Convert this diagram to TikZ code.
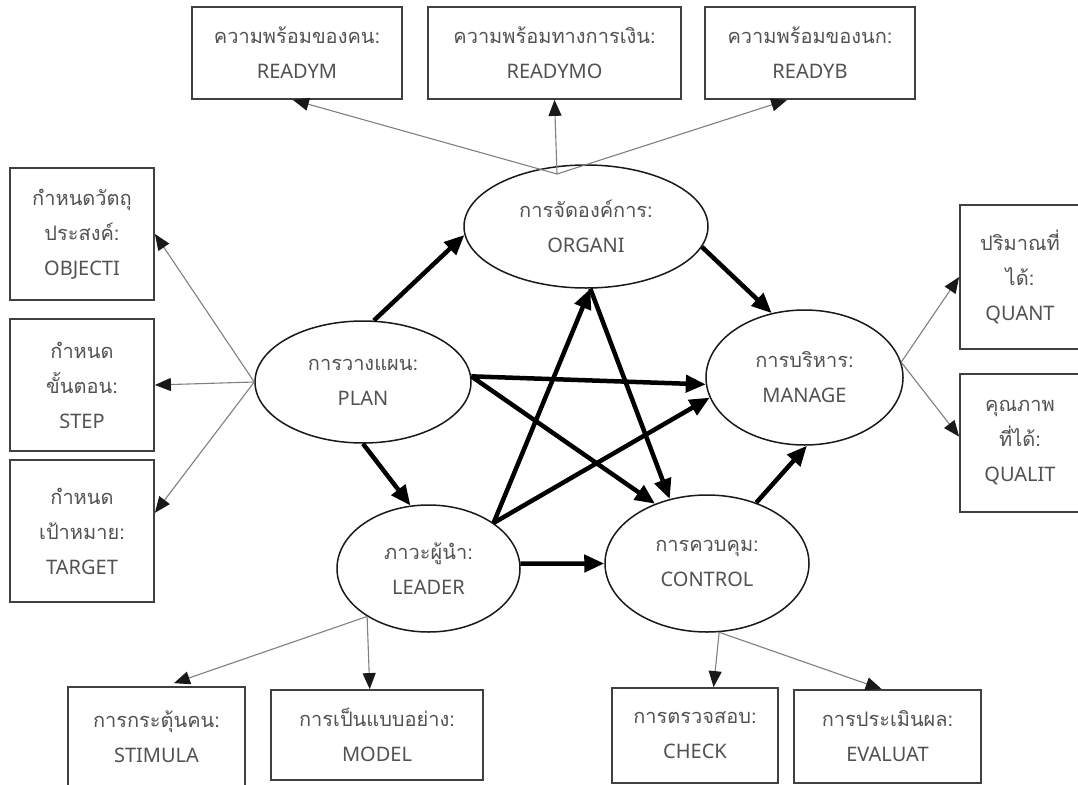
\documentclass[tikz,border=0pt]{standalone}
\usepackage{fontspec}
\setmainfont{Noto Sans}
\newfontfamily\thaifont[Script=Thai]{Loma}
\usetikzlibrary{shapes.geometric,arrows.meta}

\begin{document}
\begin{tikzpicture}[x=1pt,y=-1pt,
      box/.style={rectangle, draw=black!75, line width=1.8pt, inner sep=0pt, align=center, text=black!68, font=\fontsize{20}{35}\selectfont},
      var/.style={ellipse, draw=black!90, line width=1.5pt, inner sep=0pt, align=center, text=black!68, font=\fontsize{20}{35}\selectfont},
      effect/.style={line width=4.5pt, -{Triangle[length=20pt,width=17pt]}},
      indic/.style={color=black!50, line width=1.1pt, -{Triangle[length=16pt,width=13pt,color=black!90]}}]
      \useasboundingbox (0,0) rectangle (1078,784);
      \fill[white] (0,0) rectangle (1078,784);
      \clip (0,0) rectangle (1078,784);

      \node[var, minimum width=244pt, minimum height=123pt] (ORGANI) at (586,226.5) {{\thaifont การจัดองค์การ:}\\ORGANI};
      \node[var, minimum width=216pt, minimum height=122pt] (PLAN) at (363,382) {{\thaifont การวางแผน:}\\PLAN};
      \node[var, minimum width=183pt, minimum height=127pt] (LEADER) at (428.5,568.5) {{\thaifont ภาวะผู้นำ:}\\LEADER};
      \node[var, minimum width=197pt, minimum height=135pt] (MANAGE) at (804.5,377.5) {{\thaifont การบริหาร:}\\MANAGE};
      \node[var, minimum width=204pt, minimum height=137pt] (CONTROL) at (707,563.5) {{\thaifont การควบคุม:}\\CONTROL};

      \node[box, minimum width=210pt, minimum height=92pt] (READYM) at (297,53) {{\thaifont ความพร้อมของคน:}\\READYM};
      \node[box, minimum width=253pt, minimum height=92pt] (READYMO) at (554.5,53) {{\thaifont ความพร้อมทางการเงิน:}\\READYMO};
      \node[box, minimum width=210pt, minimum height=92pt] (READYB) at (810,53) {{\thaifont ความพร้อมของนก:}\\READYB};
      \node[box, minimum width=144pt, minimum height=132pt] (OBJECTI) at (82,234) {{\thaifont กำหนดวัตถุ}\\{\thaifont ประสงค์:}\\OBJECTI};
      \node[box, minimum width=144pt, minimum height=132pt] (STEP) at (82,385) {{\thaifont กำหนด}\\{\thaifont ขั้นตอน:}\\STEP};
      \node[box, minimum width=144pt, minimum height=142pt] (TARGET) at (82,531) {{\thaifont กำหนด}\\{\thaifont เป้าหมาย:}\\TARGET};
      \node[box, minimum width=120pt, minimum height=144pt] (QUANT) at (1020,277) {{\thaifont ปริมาณที่}\\{\thaifont ได้:}\\QUANT};
      \node[box, minimum width=120pt, minimum height=138pt] (QUALIT) at (1020,443) {{\thaifont คุณภาพ}\\{\thaifont ที่ได้:}\\QUALIT};
      \node[box, minimum width=177pt, minimum height=99pt] (STIMULA) at (156.5,736.5) {{\thaifont การกระตุ้นคน:}\\STIMULA};
      \node[box, minimum width=212pt, minimum height=90pt] (MODEL) at (377,735) {{\thaifont การเป็นแบบอย่าง:}\\MODEL};
      \node[box, minimum width=166pt, minimum height=95pt] (CHECK) at (695,735.5) {{\thaifont การตรวจสอบ:}\\CHECK};
      \node[box, minimum width=187pt, minimum height=93pt] (EVALUAT) at (887.5,736.5) {{\thaifont การประเมินผล:}\\EVALUAT};
      \coordinate (orgfan) at (557,174);

      \path [effect] (PLAN.80) edge (ORGANI.184);
      \path [effect] (PLAN.270) edge (LEADER.106);
      \path [effect] (PLAN.3) edge (MANAGE.184);
      \path [effect] (PLAN.3) edge (CONTROL.131);
      \path [effect] (ORGANI.350) edge (MANAGE.117);
      \path [effect] (ORGANI.274) edge (CONTROL.120);
      \path [effect] (LEADER.35) edge (ORGANI.274);
      \path [effect] (LEADER.35) edge (MANAGE.192);
      \path [effect] (LEADER.3) edge (CONTROL.west);
      \path [effect] (CONTROL.51) edge (MANAGE.272);

      \path [indic] (orgfan) edge (READYM.265);
      \path [indic] (orgfan) edge (READYMO.south);
      \path [indic] (orgfan) edge (READYB.244);
      \path [indic] (PLAN.west) edge (OBJECTI.east);
      \path [indic] (PLAN.west) edge (STEP.east);
      \path [indic] (PLAN.west) edge (TARGET.14);
      \path [indic] (MANAGE.9) edge (QUANT.west);
      \path [indic] (MANAGE.9) edge (QUALIT.174);
      \path [indic] (LEADER.218) edge[shorten >=9pt] (STIMULA.80);
      \path [indic] (LEADER.218) edge (MODEL.99);
      \path [indic] (CONTROL.280) edge (CHECK.69);
      \path [indic] (CONTROL.280) edge (EVALUAT.97);

\end{tikzpicture}
\end{document}
